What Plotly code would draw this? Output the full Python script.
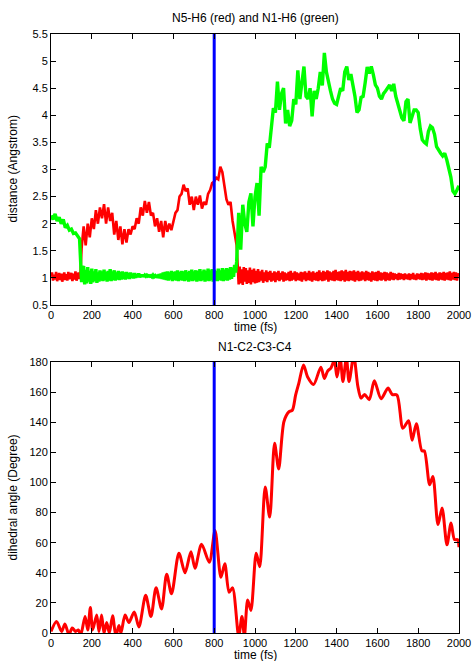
import plotly.graph_objects as go
from plotly.subplots import make_subplots

# --- N5-H6 distance (Angstrom); 5 fs sampling in the bonded parts, 10 fs elsewhere ---
n5_h6_time = list(range(0, 150, 5)) + list(range(150, 920, 10)) + list(range(920, 2001, 5))
n5_h6 = [
    # 0-145 fs
    1.02, 1.10, 0.95, 1.06, 0.97, 1.11, 0.94, 1.04, 1.09, 0.96, 1.08, 0.93, 1.05, 1.10, 0.96,
    1.07, 0.95, 1.11, 0.98, 1.03, 1.09, 0.94, 1.08, 0.97, 1.12, 0.95, 1.06, 1.10, 0.98, 1.13,
    # 150-910 fs
    1.55, 1.95, 1.60, 2.00, 1.75, 2.10, 1.90, 2.25, 2.00, 2.30, 2.10, 2.36, 2.00, 2.30, 2.05,
    2.20, 1.80, 2.05, 1.70, 1.95, 1.62, 1.90, 1.65, 1.90, 1.80, 1.95, 1.90, 2.10, 2.00, 2.30,
    2.15, 2.42, 2.20, 2.40, 2.15, 2.20, 1.95, 2.10, 1.85, 2.05, 1.75, 2.05, 1.85, 2.00, 1.88,
    2.05, 2.20, 2.25, 2.50, 2.55, 2.72, 2.60, 2.65, 2.35, 2.50, 2.25, 2.50, 2.35, 2.52, 2.28,
    2.40, 2.35, 2.55, 2.62, 2.75, 2.78, 2.85, 2.82, 3.05, 2.95, 2.70, 2.45, 2.35, 2.40, 2.05,
    1.80, 1.60,
    # 920-2000 fs
    0.88, 1.21, 0.90, 1.16, 0.87, 1.20, 0.93, 1.18, 0.89, 1.14, 0.91, 1.19, 0.88, 1.15, 0.92, 1.17, 0.90, 1.13, 0.91, 1.16,
    0.92, 1.12, 0.95, 1.15, 0.91, 1.10, 0.94, 1.14, 0.92, 1.11, 0.96, 1.13, 0.93, 1.09, 0.95, 1.12, 0.92, 1.10, 0.96, 1.13,
    0.94, 1.09, 0.97, 1.12, 0.93, 1.10, 0.95, 1.08, 0.96, 1.11, 0.94, 1.13, 0.95, 1.09, 0.97, 1.12, 0.94, 1.10, 0.96, 1.08,
    0.95, 1.11, 0.93, 1.10, 0.97, 1.12, 0.94, 1.09, 0.96, 1.13, 0.95, 1.10, 0.93, 1.12, 0.96, 1.09, 0.95, 1.11, 0.94, 1.14,
    0.96, 1.10, 0.94, 1.13, 0.95, 1.11, 0.97, 1.14, 0.93, 1.12, 0.96, 1.10, 0.95, 1.13, 0.94, 1.15, 0.96, 1.11, 0.95, 1.12,
    0.94, 1.14, 0.96, 1.12, 0.93, 1.15, 0.95, 1.11, 0.94, 1.13, 0.96, 1.12, 0.95, 1.14, 0.93, 1.11, 0.96, 1.13, 0.94, 1.10,
    0.95, 1.12, 0.97, 1.10, 0.94, 1.13, 0.96, 1.11, 0.95, 1.09, 0.93, 1.12, 0.96, 1.10, 0.95, 1.11, 0.94, 1.13, 0.96, 1.10,
    0.95, 1.09, 0.97, 1.11, 0.94, 1.10, 0.96, 1.08, 0.95, 1.11, 0.97, 1.09, 0.96, 1.08, 0.98, 1.07, 0.96, 1.09, 0.97, 1.08,
    0.98, 1.07, 0.96, 1.08, 0.98, 1.06, 0.97, 1.08, 0.96, 1.07, 0.98, 1.09, 0.97, 1.06, 0.96, 1.08, 0.98, 1.07, 0.97, 1.09,
    0.96, 1.08, 0.97, 1.10, 0.95, 1.09, 0.97, 1.08, 0.96, 1.10, 0.95, 1.09, 0.97, 1.11, 0.96, 1.08, 0.95, 1.10, 0.97, 1.09,
    0.96, 1.11, 0.95, 1.09, 0.97, 1.10, 0.96, 1.12, 0.95, 1.09, 0.97, 1.11, 0.96, 1.10, 0.95, 1.08, 1.03,
]

# --- N1-H6 distance (Angstrom) ---
n1_h6_time = list(range(0, 150, 10)) + list(range(150, 915, 5)) + list(range(920, 2001, 10))
n1_h6 = [
    # 0-140 fs
    2.15, 2.08, 2.18, 2.05, 2.12, 2.00, 2.08, 1.93, 1.97, 1.88, 1.90, 1.82, 1.83, 1.76, 1.72,
    # 150-910 fs
    0.92, 1.18, 1.22, 0.88, 1.15, 0.90, 1.20, 0.93, 1.13, 0.89, 1.17, 0.92, 1.12, 0.94, 1.16, 0.91, 1.10, 0.93, 1.14, 0.95,
    1.12, 0.94, 1.15, 0.96, 1.11, 0.93, 1.13, 0.95, 1.16, 0.94, 1.12, 0.96, 1.14, 0.95, 1.10, 0.97, 1.13, 0.96, 1.11, 0.97,
    1.12, 0.98, 1.10, 0.97, 1.11, 0.99, 1.09, 0.98, 1.10, 1.00, 1.08, 0.99, 1.09, 1.00, 1.07, 1.01, 1.08, 1.01, 1.06, 1.02,
    1.06, 1.02, 1.05, 1.03, 1.05, 1.03, 1.04, 1.03, 1.04, 1.02, 1.05, 1.02, 1.04, 1.01, 1.06, 1.00, 1.07, 0.99, 1.08, 0.98,
    1.10, 0.97, 1.11, 0.96, 1.12, 0.95, 1.10, 0.97, 1.13, 0.94, 1.11, 0.96, 1.12, 0.95, 1.14, 0.94, 1.11, 0.96, 1.13, 0.95,
    1.12, 0.94, 1.14, 0.96, 1.11, 0.93, 1.13, 0.95, 1.15, 0.94, 1.12, 0.96, 1.14, 0.93, 1.13, 0.95, 1.16, 0.94, 1.12, 0.96,
    1.15, 0.93, 1.13, 0.95, 1.17, 0.94, 1.14, 0.96, 1.16, 0.93, 1.15, 0.95, 1.13, 0.94, 1.17, 0.96, 1.14, 0.95, 1.18, 0.94,
    1.15, 0.96, 1.18, 0.95, 1.17, 0.97, 1.20, 0.98, 1.19, 1.02, 1.24, 1.10, 1.30,
    # 920-2000 fs
    2.20, 1.52, 2.35, 2.00, 1.85, 2.40, 2.56, 1.95, 2.50, 2.75, 2.15, 3.05, 2.95, 3.05, 3.48,
    3.40, 3.80, 4.13, 4.05, 4.62, 4.10, 4.40, 4.50, 3.85, 4.10, 3.80, 3.90, 4.30, 4.20, 4.83,
    4.30, 4.60, 4.90, 4.35, 4.30, 4.50, 3.98, 4.45, 4.30, 4.50, 4.80, 4.55, 5.15, 4.80, 4.60,
    4.45, 4.30, 4.22, 4.20, 4.35, 4.50, 4.45, 4.80, 4.90, 4.65, 4.76, 4.55, 4.35, 4.05, 4.10,
    4.33, 4.35, 4.60, 4.89, 4.77, 4.90, 4.75, 4.56, 4.50, 4.35, 4.30, 4.40, 4.45, 4.50, 4.56,
    4.45, 4.58, 4.35, 4.20, 4.05, 3.95, 3.90, 4.25, 4.30, 3.86, 3.98, 4.10, 4.10, 4.05, 3.75,
    3.55, 3.50, 3.47, 3.70, 3.80, 3.77, 3.65, 3.42, 3.35, 3.30, 3.25, 3.30, 3.18, 3.00, 2.86,
    2.60, 2.55, 2.62, 2.70,
]

assert len(n5_h6) == len(n5_h6_time) and len(n1_h6) == len(n1_h6_time)

# --- dihedral angle N1-C2-C3-C4 (degree) at turning points ---
dihedral_t = [
    0, 27, 52, 68, 88, 104, 121, 134, 146, 167, 180, 193, 204, 224, 235, 248, 260, 273, 286,
    302, 318, 333, 343, 363, 382, 408, 431, 464, 490, 515, 542, 567, 591, 627, 657, 686, 706,
    738, 776, 804, 833, 852, 873, 890, 920, 936, 948, 964, 980, 1006, 1023, 1050, 1072, 1096,
    1116, 1142, 1167, 1183, 1199, 1215, 1238, 1258, 1287, 1323, 1340, 1356, 1372, 1389, 1402,
    1418, 1431, 1448, 1461, 1484, 1504, 1520, 1537, 1560, 1585, 1618, 1652, 1672, 1696, 1725,
    1753, 1770, 1791, 1818, 1830, 1856, 1872, 1897, 1917, 1941, 1961, 1978, 1993, 2000,
]
dihedral_deg = [
    1, 7.7, 1, 6, -1, 3.3, 1, 2, -1, 11, 2, 17, 2, 12, 1, 12, 0, 7, 0,
    11.5, -2, 5, 0, 12, 7, 14, 4, 25, 11, 30, 16, 39, 26, 53, 40, 54, 43,
    59, 47, 68, 37, 46, 27, 30, -2, 11, -2, 22, 15, 53, 44, 97, 77, 126,
    109, 140.5, 147, 148, 158, 166, 178, 170, 165, 176.6, 169, 174, 176, 181, 170,
    182, 167, 183, 167, 184, 164, 156, 158.5, 155, 167.5, 155.6, 162.7, 158.5, 158, 136,
    141, 128, 139, 121, 121, 98.5, 104, 72, 83, 58.6, 73, 62, 62, 57,
]

marker_time = 800

RED, GREEN, BLUE = "#ff0000", "#00ff00", "#0000ff"
FONT = "Liberation Sans, Arial, Helvetica, sans-serif"

TOP_DOMAIN = [0.5476, 1.0]
BOTTOM_DOMAIN = [0.0, 0.4524]

fig = make_subplots(rows=2, cols=1, vertical_spacing=0.095)

fig.add_trace(go.Scatter(x=n5_h6_time, y=n5_h6, mode="lines",
                         line=dict(color=RED, width=2.6)), row=1, col=1)
fig.add_trace(go.Scatter(x=n1_h6_time, y=n1_h6, mode="lines",
                         line=dict(color=GREEN, width=3.4)), row=1, col=1)
fig.add_trace(go.Scatter(x=[marker_time, marker_time], y=[0.5, 5.5], mode="lines",
                         line=dict(color=BLUE, width=3)), row=1, col=1)

fig.add_trace(go.Scatter(x=dihedral_t, y=dihedral_deg, mode="lines",
                         line=dict(color=RED, width=3, shape="spline", smoothing=0.8)),
              row=2, col=1)
fig.add_trace(go.Scatter(x=[marker_time, marker_time], y=[0, 180], mode="lines",
                         line=dict(color=BLUE, width=3)), row=2, col=1)

axis_style = dict(showline=True, linecolor="black", linewidth=1, mirror="allticks",
                  ticks="inside", ticklen=5, tickcolor="black", showgrid=False,
                  zeroline=False, automargin=False,
                  tickfont=dict(family=FONT, size=11, color="black"))

x_ticks = [0, 200, 400, 600, 800, 1000, 1200, 1400, 1600, 1800, 2000]
dist_ticks = [0.5, 1, 1.5, 2, 2.5, 3, 3.5, 4, 4.5, 5, 5.5]
angle_ticks = [0, 20, 40, 60, 80, 100, 120, 140, 160, 180]

for r in (1, 2):
    fig.update_xaxes(range=[0, 2000], tickvals=x_ticks, **axis_style, row=r, col=1)
fig.update_yaxes(range=[0.5, 5.5], tickvals=dist_ticks, **axis_style, row=1, col=1)
fig.update_yaxes(range=[0, 180], tickvals=angle_ticks, **axis_style, row=2, col=1)

fig.update_layout(
    width=474, height=661,
    margin=dict(l=51, r=15, t=34, b=28, autoexpand=False),
    paper_bgcolor="white", plot_bgcolor="white",
    showlegend=False,
    font=dict(family=FONT, size=11, color="black"),
    yaxis=dict(domain=TOP_DOMAIN), yaxis2=dict(domain=BOTTOM_DOMAIN),
)

title_font = dict(family=FONT, size=12, color="black")


def label(text, x, y, xshift=0, yshift=0, angle=0):
    fig.add_annotation(text=text, xref="paper", yref="paper", x=x, y=y,
                       xshift=xshift, yshift=yshift, textangle=angle,
                       showarrow=False, xanchor="center", yanchor="middle",
                       font=title_font)


label("N5-H6 (red) and N1-H6 (green)", 0.5, TOP_DOMAIN[1], yshift=16)
label("time (fs)", 0.5, TOP_DOMAIN[0], yshift=-22)
label("distance (Angstrom)", 0, sum(TOP_DOMAIN) / 2, xshift=-38, angle=-90)

label("N1-C2-C3-C4", 0.5, BOTTOM_DOMAIN[1], yshift=15)
label("time (fs)", 0.5, BOTTOM_DOMAIN[0], yshift=-22)
label("dihedral angle (Degree)", 0, sum(BOTTOM_DOMAIN) / 2, xshift=-38, angle=-90)

fig.write_html("out.html")
